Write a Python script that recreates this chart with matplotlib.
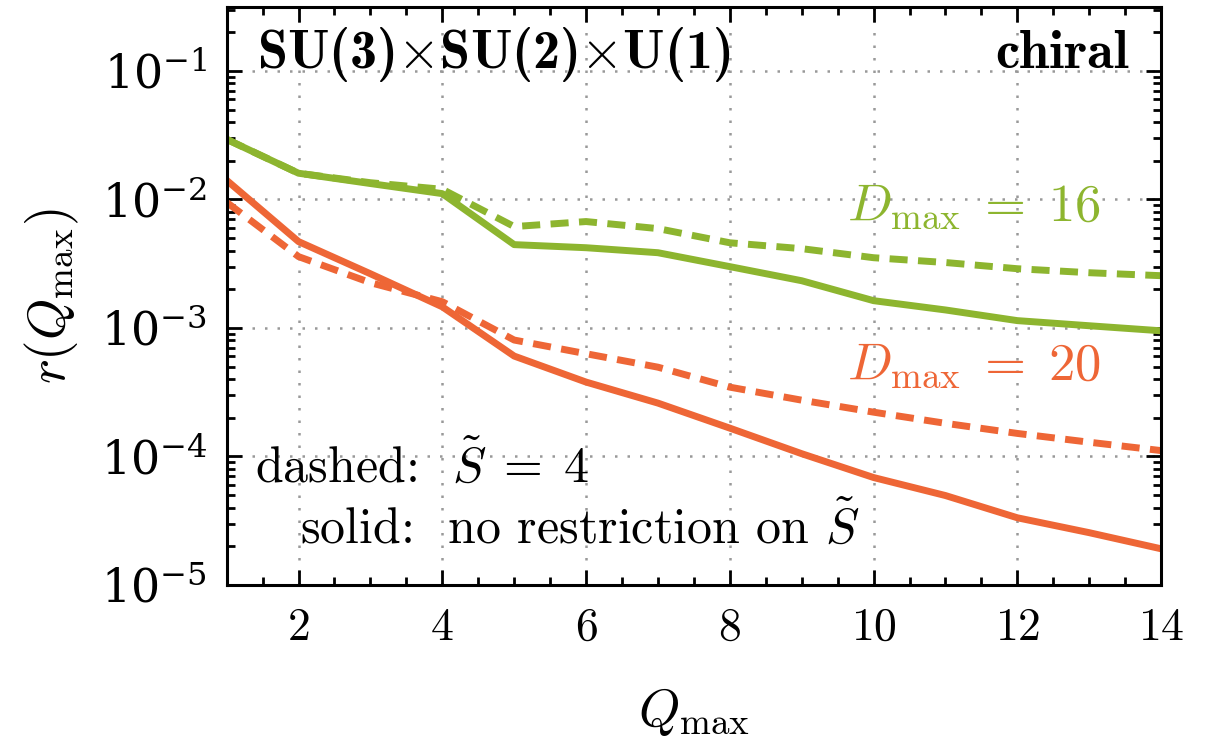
import numpy as np
import matplotlib
matplotlib.use("Agg")
import matplotlib.pyplot as plt
from matplotlib.ticker import MultipleLocator, LogLocator, NullFormatter

plt.rcParams["mathtext.fontset"] = "cm"
plt.rcParams["font.family"] = "serif"
plt.rcParams["font.serif"] = ["DejaVu Serif"]

# data
q = np.arange(1, 15)
d16_solid = [0.0294, 0.0160, 0.0133, 0.0111, 0.00445, 0.00421, 0.00385,
             0.0030, 0.00233, 0.00163, 0.00138, 0.00114, 0.00104, 0.00095]
d16_dashed = [0.0294, 0.0160, 0.0135, 0.0120, 0.00615, 0.00673, 0.00593,
              0.0046, 0.00414, 0.00352, 0.00323, 0.00289, 0.00269, 0.00255]
d20_solid = [0.0141, 0.00470, 0.00264, 0.00146, 0.000604, 0.000379, 0.00026,
             0.000166, 0.000105, 6.85e-5, 4.96e-5, 3.33e-5, 2.55e-5, 1.91e-5]
d20_dashed = [0.0095, 0.00359, 0.00225, 0.0016, 0.000805, 0.000630, 0.000495,
              0.000346, 0.000274, 0.000221, 0.000181, 0.000151, 0.000129, 0.000111]

green = "#8db52f"
orange = "#ee6636"

fig = plt.figure(figsize=(12.12, 7.47), dpi=100)
ax = fig.add_axes([0.187, 0.217, 0.771, 0.774])

lw = 5
dash = (0, (2.6, 1.5))
ax.plot(q, d16_solid, color=green, lw=lw)
ax.plot(q, d16_dashed, color=green, lw=lw, ls=dash)
ax.plot(q, d20_solid, color=orange, lw=lw)
ax.plot(q, d20_dashed, color=orange, lw=lw, ls=dash)

ax.set_yscale("log")
ax.set_xlim(1, 14)
ax.set_ylim(1e-5, 10 ** -0.5)
ax.xaxis.set_major_locator(MultipleLocator(2))
ax.xaxis.set_minor_locator(MultipleLocator(0.5))
ax.yaxis.set_major_locator(LogLocator(base=10, numticks=10))
ax.yaxis.set_minor_locator(LogLocator(base=10, subs=np.arange(2, 10), numticks=20))
ax.yaxis.set_minor_formatter(NullFormatter())
ax.set_xticks([2, 4, 6, 8, 10, 12, 14])
ax.set_xticklabels([f"${v}$" for v in [2, 4, 6, 8, 10, 12, 14]])

ax.tick_params(which="both", direction="in", top=True, right=True, width=2)
ax.tick_params(which="major", length=11, labelsize=33, pad=14)
ax.tick_params(which="minor", length=6)
for s in ax.spines.values():
    s.set_linewidth(2.2)

ax.grid(True, which="major", ls=(0, (1, 4)), color="#999999", lw=1.8)

ax.set_xlabel(r"$Q_\mathrm{max}$", fontsize=38, labelpad=26)
ax.set_ylabel(r"$r(Q_\mathrm{max})$", fontsize=38, labelpad=14)

ax.text(0.032, 0.917, r"SU(3)$\times$SU(2)$\times$U(1)", family="cmb10",
        transform=ax.transAxes, fontsize=39, va="center", ha="left")
ax.text(0.965, 0.917, "chiral", family="cmb10", transform=ax.transAxes,
        fontsize=39, va="center", ha="right")
ax.text(0.935, 0.655, r"$D_\mathrm{max}\;=\;16$", transform=ax.transAxes,
        fontsize=38, color=green, va="center", ha="right")
ax.text(0.935, 0.38, r"$D_\mathrm{max}\;=\;20$", transform=ax.transAxes,
        fontsize=38, color=orange, va="center", ha="right")
ax.text(0.03, 0.205, r"dashed:  $\tilde{S}\;=\;4$", family="cmr10",
        transform=ax.transAxes, fontsize=36, va="center", ha="left")
ax.text(0.078, 0.1, r"solid:  no restriction on $\tilde{S}$", family="cmr10",
        transform=ax.transAxes, fontsize=36, va="center", ha="left")

fig.savefig("out.png", dpi=100)
